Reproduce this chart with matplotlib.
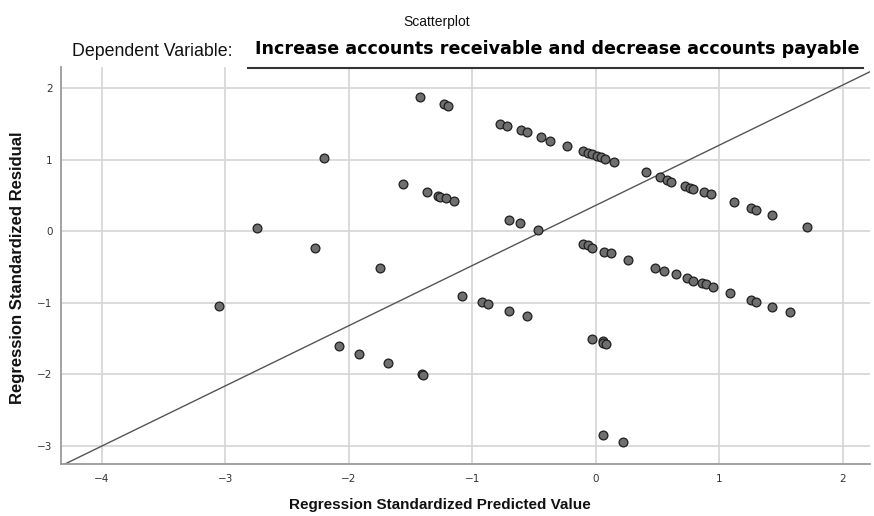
import matplotlib
matplotlib.use("Agg")
import matplotlib.pyplot as plt
from matplotlib.lines import Line2D

# standardized predicted values (x) and standardized residuals (y)
pred = [-3.05, -2.74, -2.27, -2.20, -2.08, -1.92, -1.75, -1.68, -1.56, -1.42,
        -1.41, -1.40, -1.37, -1.28, -1.26, -1.23, -1.21, -1.20, -1.15, -1.08,
        -0.92, -0.87, -0.775, -0.715, -0.70, -0.70, -0.61, -0.607, -0.56, -0.559,
        -0.47, -0.44, -0.372, -0.23, -0.10, -0.10, -0.06, -0.06, -0.03, -0.03,
        -0.03, 0.01, 0.04, 0.06, 0.06, 0.06, 0.07, 0.075, 0.08, 0.12,
        0.15, 0.22, 0.26, 0.41, 0.48, 0.52, 0.55, 0.575, 0.61, 0.65,
        0.72, 0.74, 0.76, 0.79, 0.79, 0.86, 0.88, 0.89, 0.93, 0.95,
        1.09, 1.12, 1.26, 1.26, 1.30, 1.30, 1.43, 1.43, 1.57, 1.71]
resid = [-1.05, 0.05, -0.23, 1.02, -1.61, -1.71, -0.52, -1.84, 0.66, 1.87,
         -1.99, -2.01, 0.55, 0.49, 0.48, 1.77, 0.46, 1.74, 0.42, -0.90,
         -0.99, -1.02, 1.50, 1.47, 0.16, -1.12, 0.11, 1.41, -1.19, 1.38,
         0.02, 1.31, 1.26, 1.19, 1.12, -0.18, 1.09, -0.20, 1.07, -0.23,
         -1.50, 1.05, 1.03, -2.85, -1.53, -1.56, -0.29, 1.01, -1.57, -0.31,
         0.97, -2.94, -0.40, 0.82, -0.52, 0.76, -0.56, 0.71, 0.69, -0.60,
         0.63, -0.66, 0.60, 0.59, -0.69, -0.72, 0.54, -0.74, 0.52, -0.78,
         -0.86, 0.40, 0.32, -0.96, 0.30, -0.99, 0.22, -1.06, -1.13, 0.06]

line_slope = 0.84
line_intercept = 0.36

x_ticks = [-4, -3, -2, -1, 0, 1, 2]
y_ticks = [-3, -2, -1, 0, 1, 2]

fig = plt.figure(figsize=(8.74, 5.16), dpi=100)
ax = fig.add_axes([0.0698, 0.1008, 0.9256, 0.7692])

ax.set_xlim(-4.33, 2.22)
ax.set_ylim(-3.25, 2.29)
ax.set_xticks(x_ticks)
ax.set_yticks(y_ticks)
ax.grid(True, color="#d4d4d4", linewidth=1.2)
ax.set_axisbelow(True)

for side in ["top", "right"]:
    ax.spines[side].set_visible(False)
for side in ["left", "bottom"]:
    ax.spines[side].set_color("#9a9a9a")
    ax.spines[side].set_linewidth(1.3)

ax.tick_params(length=0, labelsize=7.5, labelcolor="#333333")
ax.tick_params(axis="y", pad=6)
ax.tick_params(axis="x", pad=7)

ax.axline((0, line_intercept), slope=line_slope, color="#555555", linewidth=1.0, zorder=2)

ax.scatter(pred, resid, s=40, facecolor="#6f6f6f", edgecolor="#1e1e1e",
           linewidth=0.9, zorder=3)

narrow = ["Liberation Sans Narrow", "Liberation Sans", "DejaVu Sans"]
ax.set_xlabel("Regression Standardized Predicted Value", fontsize=11,
              fontweight="bold", family=narrow, color="#111111")
ax.xaxis.set_label_coords(0.468, -0.086)
ax.set_ylabel("Regression Standardized Residual", fontsize=12,
              fontweight="bold", family=narrow, color="#111111")
ax.yaxis.set_label_coords(-0.0445, 0.494)

fig.text(0.5, 0.958, "Scatterplot", ha="center", va="center",
         fontsize=10, family=narrow, color="#111111")
fig.text(0.082, 0.900, "Dependent Variable:", ha="left", va="center",
         fontsize=12.8, family=narrow, color="#111111")
fig.text(0.292, 0.905, "Increase accounts receivable and decrease accounts payable",
         ha="left", va="center", fontsize=12.6, fontweight="bold",
         family="DejaVu Sans", color="#000000")
fig.add_artist(Line2D([0.284, 0.987], [0.868, 0.868], color="#333333",
                      linewidth=1.5, transform=fig.transFigure))

fig.savefig("out.png", dpi=100)
